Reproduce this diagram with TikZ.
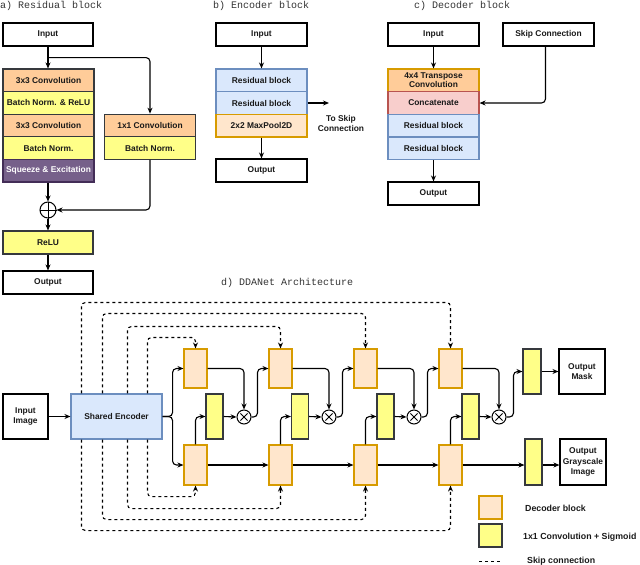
\documentclass[tikz,border=0pt]{standalone}
\usepackage{fontspec}
\setmainfont{Liberation Sans}
\newfontfamily\titlefont{Liberation Mono}
\usetikzlibrary{arrows.meta,calc}
\definecolor{cConv}{HTML}{FFCC99}
\definecolor{cDark}{HTML}{36393D}
\definecolor{cYel}{HTML}{FFFF88}
\definecolor{cPur}{HTML}{76608A}
\definecolor{cPurD}{HTML}{432D57}
\definecolor{cBlue}{HTML}{DAE8FC}
\definecolor{cBlueD}{HTML}{6C8EBF}
\definecolor{cOr}{HTML}{FFE6CC}
\definecolor{cOrD}{HTML}{D79B00}
\definecolor{cRed}{HTML}{F8CECC}
\definecolor{cRedD}{HTML}{B85450}
\definecolor{cTitle}{HTML}{333333}
\begin{document}
\begin{tikzpicture}[x=1pt,y=-1pt,
  bx/.style={draw=black, line width=1.1pt, fill=white, inner sep=0pt, text=black!90,
    font=\fontsize{8.4}{10.5}\selectfont\bfseries, align=center},
  wbox/.style={bx, minimum width=90pt, minimum height=23pt},
  row/.style={bx, minimum width=91pt, minimum height=22.6pt},
  conv/.style={row, fill=cConv, draw=cDark},
  yel/.style={row, fill=cYel, draw=cDark},
  pur/.style={row, fill=cPur, draw=cPurD, text=white},
  blu/.style={row, fill=cBlue, draw=cBlueD},
  org/.style={row, fill=cOr, draw=cOrD},
  tconv/.style={row, fill=cConv, draw=cOrD},
  cat/.style={row, fill=cRed, draw=cRedD},
  dec/.style={bx, fill=cOr, draw=cOrD, minimum width=23pt},
  ybar/.style={bx, fill=cYel, draw=cDark, minimum width=17pt, minimum height=45pt},
  ttl/.style={font=\titlefont\fontsize{10}{12}\selectfont, text=cTitle, anchor=base west, inner sep=0pt},
  arr/.style={line width=1.1pt, -{Stealth[length=6pt,width=5pt]}, rounded corners=4pt},
  skipl/.style={line width=1.1pt, dash pattern=on 3pt off 3pt, -{Stealth[length=6pt,width=5pt]}, rounded corners=4pt},
  opcirc/.style={draw=black, line width=1pt, circle, fill=white, inner sep=0pt},
  lgtxt/.style={font=\fontsize{8.8}{10.5}\selectfont\bfseries, anchor=west, inner sep=0pt, text=black!90}
]
\useasboundingbox (0,0) rectangle (640,565);

% ---------- a) Residual block
\node[ttl] (ta) at (0,8) {a) Residual block};
\node[wbox] (inA) at (48,34.5) {Input};
\node[conv] (a1) at (48.5,80.3) {3x3 Convolution};
\node[yel]  (a2) at (48.5,102.9) {Batch Norm. \& ReLU};
\node[conv] (a3) at (48.5,125.5) {3x3 Convolution};
\node[yel]  (a4) at (48.5,148.1) {Batch Norm.};
\node[pur]  (a5) at (48.5,170.7) {Squeeze \& Excitation};
\node[conv] (r1) at (150,125.5) {1x1 Convolution};
\node[yel]  (r2) at (150,148.1) {Batch Norm.};
\node[opcirc, minimum size=16pt] (plus) at (48,210) {};
\draw[line width=1pt] (plus.north) -- (plus.south) (plus.west) -- (plus.east);
\node[yel, minimum width=90pt, minimum height=23pt] (relu) at (48,242.5) {ReLU};
\node[wbox] (outA) at (48,282.5) {Output};
\coordinate (br) at ([yshift=-11pt]inA.south);
\draw[arr] (inA.south) -- (inA.south |- a1.north);
\draw[arr] (br) -| (r1.north);
\draw[arr] (a5.south -| plus.north) -- (plus.north);
\draw[arr] (r2.south) |- (plus.east);
\draw[arr] (plus.south) -- (relu.north -| plus.south);
\draw[arr] (relu.south) -- (outA.north);

% ---------- b) Encoder block
\node[ttl] (tb) at (213,8) {b) Encoder block};
\node[wbox, minimum width=91pt] (inB) at (261.5,34.5) {Input};
\node[blu] (b1) at (261.5,80.3) {Residual block};
\node[blu] (b2) at (261.5,103) {Residual block};
\node[org] (b3) at (261.5,125.7) {2x2 MaxPool2D};
\node[wbox, minimum width=91pt] (outB) at (261.5,170.5) {Output};
\coordinate (skipEnd) at (329,103);
\node[bx, draw=none, fill=none, font=\fontsize{8.4}{10}\selectfont\bfseries] (skTxt) at (341,123) {To Skip\\Connection};
\draw[arr] (inB.south) -- (b1.north);
\draw[arr] (b2.east) -- (skipEnd);
\draw[arr] (b3.south) -- (outB.north);

% ---------- c) Decoder block
\node[ttl] (tc) at (414,8) {c) Decoder block};
\node[wbox, minimum width=91pt] (inC) at (433.5,34.5) {Input};
\node[wbox, minimum width=91pt] (skC) at (548.5,34.5) {Skip Connection};
\node[tconv] (c1) at (433.5,80.3) {4x4 Transpose\\[-1.5pt]Convolution};
\node[cat] (c2) at (433.5,103) {Concatenate};
\node[blu] (c3) at (433.5,125.7) {Residual block};
\node[blu] (c4) at (433.5,148.3) {Residual block};
\node[wbox, minimum width=91pt] (outC) at (433.5,193.5) {Output};
\draw[arr] (inC.south) -- (c1.north);
\draw[arr] ([xshift=-3pt]skC.south) |- (c2.east);
\draw[arr] (c4.south) -- (outC.north);

% ---------- d) DDANet
\node[ttl] (td) at (221,285) {d) DDANet Architecture};
\node[bx, minimum width=45pt, minimum height=45pt] (inImg) at (25.5,416.5) {Input\\Image};
\node[bx, fill=cBlue, draw=cBlueD, minimum width=91pt, minimum height=45pt] (enc) at (116.5,416.5) {Shared Encoder};
\foreach \i/\xd/\xy/\xm in {1/195.5/214.5/244, 2/280.5/300/329, 3/365.5/385.5/414, 4/450.5/470.5/499} {
  \node[dec, minimum height=39pt] (dT\i) at (\xd,368.5) {};
  \node[dec, minimum height=40pt] (dB\i) at (\xd,465) {};
  \node[ybar] (y\i) at (\xy,416.5) {};
  \node[opcirc, minimum size=14pt] (m\i) at (\xm,417) {};
  \draw[line width=1pt] ([shift={(-3.6,-3.6)}]m\i.center) -- ([shift={(3.6,3.6)}]m\i.center)
                        ([shift={(-3.6,3.6)}]m\i.center) -- ([shift={(3.6,-3.6)}]m\i.center);
  \draw[arr] (dT\i.east) -| (m\i.north);
  \draw[arr] (dB\i.north) |- (y\i.west);
  \draw[arr] (y\i.east) -- (m\i.west);
}
\node[ybar, minimum width=18pt] (yT) at (532,371.5) {};
\node[bx, minimum width=46pt, minimum height=45pt] (outM) at (582,371.5) {Output\\Mask};
\node[ybar, minimum height=46pt] (yB) at (533.5,462) {};
\node[bx, minimum width=46pt, minimum height=46pt] (outG) at (583,462) {Output\\Grayscale\\Image};

\draw[arr] (inImg.east) -- (enc.west);
\draw[arr] (enc.east) -- ++(10,0) |- (dT1.west);
\draw[arr] (enc.east) -- ++(10,0) |- (dB1.west);
\foreach \i/\j in {1/2, 2/3, 3/4} {
  \draw[arr] (m\i.east) -- ++(6,0) |- (dT\j.west);
  \draw[arr] (dB\i.east) -- (dB\j.west);
}
\draw[arr] (m4.east) -- ++(7,0) |- (yT.west);
\draw[arr] (yT.east) -- (outM.west);
\draw[arr] (dB4.east) -- (dB4.east -| yB.west);
\draw[arr] (yB.east |- dB4.east) -- (outG.west |- dB4.east);

\foreach \i/\dx/\up/\dn in {1/77/11/11, 2/57/22/23, 3/32/35/34, 4/11/46/45} {
  \draw[skipl] ([xshift=\dx pt]enc.north west) |- ([yshift=\up pt]dT\i.north) -- (dT\i.north);
  \draw[skipl] ([xshift=\dx pt]enc.south west) |- ([yshift=-\dn pt]dB\i.south) -- (dB\i.south);
}

% ---------- legend
\node[dec, minimum height=23pt] (lg1) at (490.5,507.5) {};
\node[lgtxt] (lg1t) at (525,508) {Decoder block};
\node[ybar, minimum width=23pt, minimum height=23pt] (lg2) at (490.5,535.5) {};
\node[lgtxt] (lg2t) at (523,537) {1x1 Convolution + Sigmoid};
\coordinate (lgA) at (479,561);
\coordinate (lgB) at (502,561);
\draw[line width=1pt, dash pattern=on 3pt off 3pt] (lgA) -- (lgB);
\node[lgtxt] (lg3t) at (527,561) {Skip connection};
\end{tikzpicture}
\end{document}
